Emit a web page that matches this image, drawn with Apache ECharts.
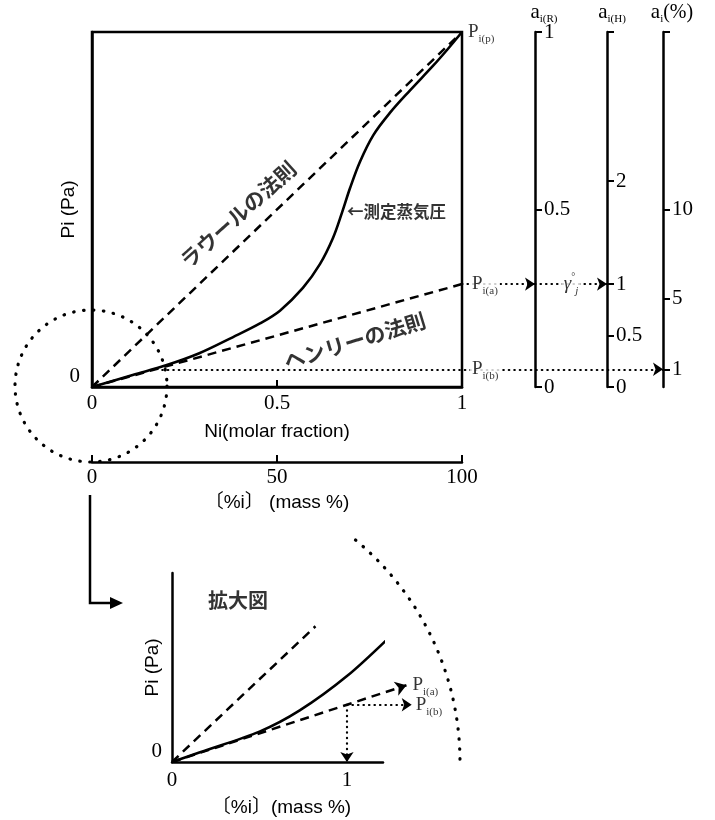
<!DOCTYPE html>
<html>
<head>
<meta charset="utf-8">
<script src="https://cdn.jsdelivr.net/npm/echarts@6/dist/echarts.min.js"></script>
<style>
  html, body { margin: 0; background: #fff; }
  #chart { width: 715px; height: 820px; }
</style>
</head>
<body>
<div id="chart"></div>
<script>
// 主図: Ni(molar fraction) - Pi(Pa), 正規化した値
var molarTicks = [0, 0.5, 1];
var massTicks = [0, 50, 100];
var curveX = [0, 0.11, 0.2, 0.29, 0.38, 0.454, 0.508, 0.57, 0.616, 0.651, 0.675, 0.697, 0.724, 0.76, 0.805, 0.859, 0.922, 0.96, 1];
var curveY = [0, 0.034, 0.061, 0.095, 0.14, 0.179, 0.215, 0.279, 0.346, 0.419, 0.489, 0.559, 0.634, 0.709, 0.772, 0.835, 0.905, 0.95, 1];
var raoultEnd = [1, 1];
var henryAt1 = 0.29;    // Pi(a)
var pb = 0.05;          // Pi(b)
var pbStartX = 0.19;
var aRTicks = [0, 0.5, 1];
var aHTicks = [0, 0.5, 1, 2];
var aPTicks = [0, 1, 5, 10];

// 拡大図
var zoomX = [0, 0.16, 0.5, 0.73, 1, 1.26];
var zoomY = [0, 0.17, 0.53, 0.9, 1.5, 2.23];
var zoomRaoultEnd = [0.82, 2.37];
var zoomHenryEnd = 1.34;
var zoomPoint = [1, 1];
var zoomXTicks = [0, 1];

// レイアウト
var gridW = 370, rOff = 73, hOff = 145, pOff = 201;
var xR = 1 + rOff / gridW, xH = 1 + hOff / gridW, xP = 1 + pOff / gridW;

var serif = 'Liberation Serif';
var sans = 'Liberation Sans';
var cjk = 'Noto Sans CJK JP';

var subRich = {
    P: { fontFamily: serif, fontSize: 19, color: '#000' },
    a: { fontFamily: serif, fontSize: 21, color: '#000' },
    s: { fontFamily: serif, fontSize: 11, lineHeight: 12, padding: [14, 0, 0, 0], color: '#000' },
    g: { fontFamily: serif, fontSize: 19, fontStyle: 'italic', color: '#000' },
    sup: { fontFamily: serif, fontSize: 10, lineHeight: 10, padding: [0, 0, 14, 0], color: '#000' },
    j: { fontFamily: serif, fontSize: 11, fontStyle: 'italic', lineHeight: 12, padding: [14, 0, 0, 0], color: '#000' },
    big: { fontFamily: serif, fontSize: 20, color: '#000' }
};

var dotted = { color: '#000', width: 2.2, type: [0.5, 5], cap: 'round', opacity: 1 };
var dashed = { color: '#000', width: 2.5, type: [9, 6], opacity: 1 };
var axisLineStyle = { onZero: false, show: true, lineStyle: { color: '#000', width: 2.5 } };

function zip(xs, ys) { return xs.map(function (x, i) { return [x, ys[i]]; }); }

var chart = echarts.init(document.getElementById('chart'));

var option = {
    backgroundColor: '#fff',
    animation: false,
    textStyle: { color: '#000' },
    grid: [
        { left: 92, top: 29, width: gridW, height: 358, show: true, borderColor: '#000', borderWidth: 2.5 },
        { left: 172, top: 573, width: 211, height: 189 }
    ],
    xAxis: [{
        gridIndex: 0, type: 'value', min: 0, max: 1,
        axisLine: axisLineStyle,
        axisTick: { inside: true, length: 7, customValues: [0.5], lineStyle: { color: '#000', width: 2 } },
        axisLabel: { customValues: molarTicks, fontFamily: serif, fontSize: 21, color: '#000', margin: 6 },
        splitLine: { show: false },
        name: 'Ni(molar fraction)', nameLocation: 'middle', nameGap: 35, nameMoveOverlap: false,
        nameTextStyle: { fontFamily: sans, fontSize: 19, color: '#000' }
    }, {
        gridIndex: 0, type: 'value', min: 0, max: 100, position: 'bottom', offset: 75,
        axisLine: axisLineStyle,
        axisTick: { inside: true, length: 7, customValues: massTicks, lineStyle: { color: '#000', width: 2 } },
        axisLabel: { customValues: massTicks, fontFamily: serif, fontSize: 21, color: '#000', margin: 5 },
        splitLine: { show: false },
        name: '〔%i〕 (mass %)', nameLocation: 'middle', nameGap: 31, nameMoveOverlap: false,
        nameTextStyle: { fontFamily: sans + ', ' + cjk, fontSize: 19, color: '#000' }
    }, {
        gridIndex: 1, type: 'value', min: 0, max: 1.206,
        axisLine: axisLineStyle,
        axisTick: { show: false },
        axisLabel: { customValues: zoomXTicks, fontFamily: serif, fontSize: 21, color: '#000', margin: 8 },
        splitLine: { show: false },
        name: '〔%i〕(mass %)', nameLocation: 'middle', nameGap: 36, nameMoveOverlap: false,
        nameTextStyle: { fontFamily: sans + ', ' + cjk, fontSize: 19, color: '#000', padding: [0, 0, 0, 8] }
    }],
    yAxis: [{
        gridIndex: 0, type: 'value', min: 0, max: 1,
        axisLine: axisLineStyle,
        axisTick: { show: false },
        axisLabel: { customValues: [0], fontFamily: serif, fontSize: 21, color: '#000', margin: 12, verticalAlign: 'bottom' },
        splitLine: { show: false },
        name: 'Pi (Pa)', nameLocation: 'middle', nameGap: 14, nameMoveOverlap: false,
        nameTextStyle: { fontFamily: sans, fontSize: 19, color: '#000' }
    }, {
        gridIndex: 0, type: 'value', min: 0, max: 1, position: 'right', offset: rOff,
        axisLine: axisLineStyle,
        axisTick: { show: true, length: 7, customValues: aRTicks, lineStyle: { color: '#000', width: 2 } },
        axisLabel: { customValues: aRTicks, fontFamily: serif, fontSize: 21, color: '#000', margin: 9 },
        splitLine: { show: false },
        name: '{a|a}{s|i(R)}', nameLocation: 'end', nameGap: 9, nameMoveOverlap: false,
        nameTextStyle: { rich: subRich, padding: [0, 0, 0, 18] }
    }, {
        gridIndex: 0, type: 'value', min: 0, max: 1 / henryAt1, position: 'right', offset: hOff,
        axisLine: axisLineStyle,
        axisTick: { show: true, length: 7, customValues: aHTicks.concat([1 / henryAt1]), lineStyle: { color: '#000', width: 2 } },
        axisLabel: { customValues: aHTicks, fontFamily: serif, fontSize: 21, color: '#000', margin: 9 },
        splitLine: { show: false },
        name: '{a|a}{s|i(H)}', nameLocation: 'end', nameGap: 9, nameMoveOverlap: false,
        nameTextStyle: { rich: subRich, padding: [0, 0, 0, 10] }
    }, {
        gridIndex: 0, type: 'value', min: 0, max: 1 / pb, position: 'right', offset: pOff,
        axisLine: axisLineStyle,
        axisTick: { show: true, length: 7, customValues: aPTicks.concat([1 / pb]), lineStyle: { color: '#000', width: 2 } },
        axisLabel: { customValues: aPTicks, fontFamily: serif, fontSize: 21, color: '#000', margin: 9 },
        splitLine: { show: false },
        name: '{a|a}{s|i}{big|(%)}', nameLocation: 'end', nameGap: 9, nameMoveOverlap: false,
        nameTextStyle: { rich: subRich, padding: [0, 0, 0, 18] }
    }, {
        gridIndex: 1, type: 'value', min: 0, max: 3.3,
        axisLine: axisLineStyle,
        axisTick: { show: false },
        axisLabel: { customValues: [0], fontFamily: serif, fontSize: 21, color: '#000', margin: 10, verticalAlign: 'bottom' },
        splitLine: { show: false },
        name: 'Pi (Pa)', nameLocation: 'middle', nameGap: 10, nameMoveOverlap: false,
        nameTextStyle: { fontFamily: sans, fontSize: 19, color: '#000' }
    }],
    series: [
        // ラウールの法則
        { type: 'line', xAxisIndex: 0, yAxisIndex: 0, data: [[0, 0], raoultEnd], showSymbol: false, lineStyle: dashed },
        // ヘンリーの法則
        { type: 'line', xAxisIndex: 0, yAxisIndex: 0, data: [[0, 0], [1, henryAt1]], showSymbol: false, lineStyle: dashed },
        // 測定蒸気圧
        { type: 'line', xAxisIndex: 0, yAxisIndex: 0, data: zip(curveX, curveY), showSymbol: false,
          smooth: 0.35,
          lineStyle: { color: '#000', width: 2.6 } },
        // 点線の矢印
        { type: 'lines', coordinateSystem: 'cartesian2d', xAxisIndex: 0, yAxisIndex: 0, clip: false,
          symbol: ['none', 'arrow'], symbolSize: [7, 10],
          lineStyle: dotted, itemStyle: { color: '#000', opacity: 1 },
          data: [
              { coords: [[1, henryAt1], [xR, henryAt1]] },
              { coords: [[xR, henryAt1], [xH, henryAt1]] },
              { coords: [[pbStartX, pb], [xP, pb]] }
          ] },
        // テキスト
        { type: 'scatter', xAxisIndex: 0, yAxisIndex: 0, symbolSize: 0, clip: false, z: 10,
          label: { show: true, color: '#000' },
          data: [
              { value: [1, 1], label: { position: 'right', distance: 6, formatter: '{P|P}{s|i(p)}', rich: subRich } },
              { value: [1, henryAt1], label: { position: 'right', distance: 8, formatter: '{P|P}{s|i(a)}', rich: subRich, backgroundColor: '#fff', padding: [0, 2] } },
              { value: [1, pb], label: { position: 'right', distance: 8, formatter: '{P|P}{s|i(b)}', rich: subRich, backgroundColor: '#fff', padding: [0, 2] } },
              { value: [(xR + xH) / 2, henryAt1], label: { position: 'inside', formatter: '{g|γ}{sup|°}{j|j}', rich: subRich, backgroundColor: '#fff', padding: [0, 2] } },
              { value: [0.395, 0.486], label: { position: 'inside', rotate: 42, formatter: 'ラウールの法則', fontFamily: cjk, fontSize: 21, fontWeight: 'bold' } },
              { value: [0.71, 0.13], label: { position: 'inside', rotate: 17, formatter: 'ヘンリーの法則', fontFamily: cjk, fontSize: 21, fontWeight: 'bold' } },
              { value: [0.689, 0.494], label: { position: 'right', distance: 0, formatter: '←測定蒸気圧', fontFamily: cjk, fontSize: 16.5, fontWeight: 'bold' } }
          ] },

        // 拡大図
        { type: 'line', xAxisIndex: 2, yAxisIndex: 4, data: [[0, 0], zoomRaoultEnd], showSymbol: false, lineStyle: dashed },
        { type: 'line', xAxisIndex: 2, yAxisIndex: 4, data: zip(zoomX, zoomY), showSymbol: false, smooth: 0.3,
          lineStyle: { color: '#000', width: 2.6 } },
        { type: 'lines', coordinateSystem: 'cartesian2d', xAxisIndex: 2, yAxisIndex: 4, clip: false,
          symbol: ['none', 'arrow'], symbolSize: [8, 11],
          lineStyle: dashed, itemStyle: { color: '#000', opacity: 1 },
          data: [{ coords: [[0, 0], [zoomHenryEnd, zoomHenryEnd]] }] },
        { type: 'lines', coordinateSystem: 'cartesian2d', xAxisIndex: 2, yAxisIndex: 4, clip: false,
          symbol: ['none', 'arrow'], symbolSize: [7, 10],
          lineStyle: dotted, itemStyle: { color: '#000', opacity: 1 },
          data: [
              { coords: [zoomPoint, [1.37, zoomPoint[1]]] },
              { coords: [zoomPoint, [zoomPoint[0], 0]] }
          ] },
        { type: 'scatter', xAxisIndex: 2, yAxisIndex: 4, symbolSize: 0, clip: false, z: 10,
          label: { show: true, color: '#000' },
          data: [
              { value: [zoomHenryEnd, zoomHenryEnd], label: { position: 'right', distance: 6, formatter: '{P|P}{s|i(a)}', rich: subRich } },
              { value: [1.37, zoomPoint[1]], label: { position: 'right', distance: 4, formatter: '{P|P}{s|i(b)}', rich: subRich } },
              { value: [0.377, 2.82], label: { position: 'inside', formatter: '拡大図', fontFamily: cjk, fontSize: 20, fontWeight: 'bold' } }
          ] }
    ]
};

chart.setOption(option);

// 拡大の丸と矢印
var o0 = chart.convertToPixel({ gridIndex: 0 }, [0, 0]);
var o1 = chart.convertToPixel({ gridIndex: 1 }, [0, 0]);
var dotStyle = { fill: 'none', stroke: '#000', lineWidth: 3.2, lineDash: [0.5, 9.5], lineCap: 'round' };
chart.setOption({
    graphic: [
        { type: 'circle', shape: { cx: o0[0] - 1, cy: o0[1] - 1, r: 76 }, style: dotStyle, silent: true },
        { type: 'arc', shape: { cx: o1[0], cy: o1[1], r: 288, startAngle: -0.88, endAngle: -0.01, clockwise: true }, style: dotStyle, silent: true },
        { type: 'polyline', shape: { points: [[o0[0] - 2, o0[1] + 108], [o0[0] - 2, o0[1] + 216], [o0[0] + 22, o0[1] + 216]] },
          style: { fill: 'none', stroke: '#000', lineWidth: 2.5 }, silent: true },
        { type: 'polygon', shape: { points: [[o0[0] + 18, o0[1] + 210], [o0[0] + 31, o0[1] + 216], [o0[0] + 18, o0[1] + 222]] },
          style: { fill: '#000' }, silent: true }
    ]
});
</script>
</body>
</html>
